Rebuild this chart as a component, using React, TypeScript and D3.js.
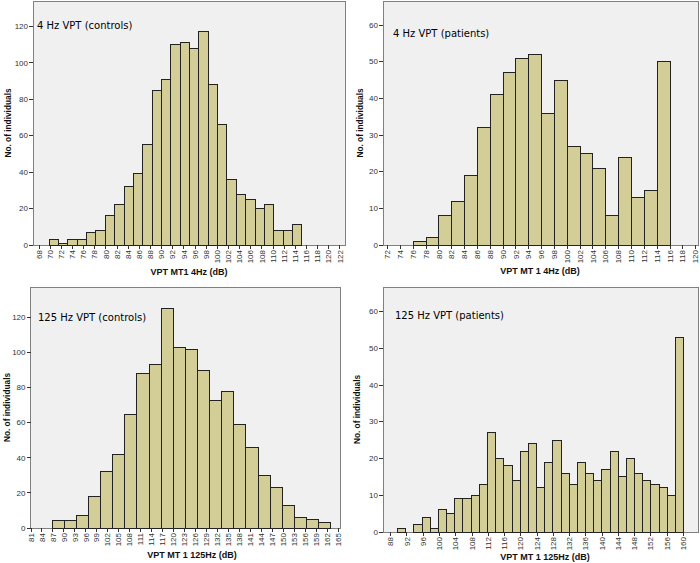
import React from 'react';
import * as d3 from 'd3';

// counts per histogram bin
const P1_COUNTS = [3, 1, 3, 3, 7, 8, 16, 22, 32, 39, 55, 85, 91, 110, 111, 108, 117, 88, 66, 36, 28, 25, 20, 22, 8, 8, 11];
const P2_COUNTS = [1, 2, 8, 12, 19, 32, 41, 47, 51, 52, 36, 45, 27, 25, 21, 8, 24, 13, 15, 50];
const P3_COUNTS = [4, 4, 7, 18, 32, 42, 65, 88, 93, 125, 103, 102, 90, 73, 78, 59, 46, 30, 23, 13, 6, 5, 3];
const P4_COUNTS = [1, 0, 2, 4, 1, 6, 5, 9, 9, 10, 13, 27, 20, 18, 14, 22, 24, 12, 19, 25, 16, 13, 19, 16, 14, 17, 22, 15, 20, 16, 14, 13, 12, 10, 53];

// bin start and width (dB)
const P1_BINS = [69.8, 1.68];
const P2_BINS = [76, 2];
const P3_BINS = [86.8, 3.31];
const P4_BINS = [89.7, 2.01];

const Y_TICKS_120 = [0, 20, 40, 60, 80, 100, 120];
const Y_TICKS_60 = [0, 10, 20, 30, 40, 50, 60];
const P1_XTICKS = d3.range(68, 123, 2);
const P2_XTICKS = d3.range(72, 121, 2);
const P3_XTICKS = d3.range(81, 166, 3);
const P4_XTICKS = d3.range(88, 161, 4);

const panels = [
  {
    title: '4 Hz VPT (controls)', xLabel: 'VPT MT1 4Hz (dB)',
    counts: P1_COUNTS, bins: P1_BINS, xTicks: P1_XTICKS, yTicks: Y_TICKS_120,
    xDomain: [66.9, 122.9], yMax: 134,
    box: { l: 33, r: 345, t: 1, b: 245 },
    titleX: 37, titleY: 29, yLabelX: 8, xLabelX: 189, xLabelY: 275,
  },
  {
    title: '4 Hz VPT (patients)', xLabel: 'VPT MT 1 4Hz (dB)',
    counts: P2_COUNTS, bins: P2_BINS, xTicks: P2_XTICKS, yTicks: Y_TICKS_60,
    xDomain: [71.3, 120.36], yMax: 66.6,
    box: { l: 383, r: 698, t: 1, b: 245 },
    titleX: 393, titleY: 37, yLabelX: 360, xLabelX: 540, xLabelY: 274,
  },
  {
    title: '125 Hz VPT (controls)', xLabel: 'VPT MT 1 125Hz (dB)',
    counts: P3_COUNTS, bins: P3_BINS, xTicks: P3_XTICKS, yTicks: Y_TICKS_120,
    xDomain: [80.86, 165.66], yMax: 137.5,
    box: { l: 30.5, r: 340.7, t: 287, b: 528 },
    titleX: 38, titleY: 321, yLabelX: 7.5, xLabelX: 192, xLabelY: 558,
  },
  {
    title: '125 Hz VPT (patients)', xLabel: 'VPT MT 1 125Hz (dB)',
    counts: P4_COUNTS, bins: P4_BINS, xTicks: P4_XTICKS, yTicks: Y_TICKS_60,
    xDomain: [86.1, 163.6], yMax: 66.7,
    box: { l: 383, r: 698, t: 287, b: 532 },
    titleX: 395, titleY: 319, yLabelX: 357, xLabelX: 545, xLabelY: 560,
  },
];

const Panel = ({ p }) => {
  const { box } = p;
  const x = d3.scaleLinear().domain(p.xDomain).range([box.l, box.r]);
  const y = d3.scaleLinear().domain([0, p.yMax]).range([box.b, box.t]);
  const [start, width] = p.bins;

  return (
    <g>
      <rect x={box.l} y={box.t} width={box.r - box.l} height={box.b - box.t}
        fill="#f0f0f0" stroke="#808080" shapeRendering="crispEdges" />
      <text x={p.titleX} y={p.titleY} fontFamily="DejaVu Sans" fontSize={10} fill="#000">{p.title}</text>
      {p.counts.map((c, i) => {
        if (!c) return null;
        const x0 = x(start + i * width);
        const x1 = x(start + (i + 1) * width);
        return (
          <rect key={i} x={x0} y={y(c)} width={x1 - x0} height={y(0) - y(c)}
            fill="#d3ce97" stroke="#222" strokeWidth={1} shapeRendering="crispEdges" />
        );
      })}
      {/* y axis */}
      {p.yTicks.map(t => (
        <g key={t} transform={`translate(${box.l},${y(t)})`}>
          <line x1={-4} x2={0} stroke="#333" shapeRendering="crispEdges" />
          <text x={-5} dy="0.33em" textAnchor="end" fontFamily="Liberation Sans" fontSize={8} fill="#333">{t}</text>
        </g>
      ))}
      {/* x axis */}
      {p.xTicks.map(t => (
        <g key={t} transform={`translate(${x(t)},${box.b})`}>
          <line y1={0} y2={4} stroke="#333" shapeRendering="crispEdges" />
          <text transform="rotate(-90)" x={-5} dy="0.33em" textAnchor="end"
            fontFamily="Liberation Sans" fontSize={8} fill="#333">{t}</text>
        </g>
      ))}
      <text transform={`translate(${p.yLabelX},${(box.t + box.b) / 2}) rotate(-90)`} dy="0.35em"
        textAnchor="middle" fontFamily="Liberation Sans" fontWeight="bold" fontSize={8.3} fill="#111">
        No. of individuals
      </text>
      <text x={p.xLabelX} y={p.xLabelY} textAnchor="middle" fontFamily="Liberation Sans"
        fontWeight="bold" fontSize={9} fill="#111">{p.xLabel}</text>
    </g>
  );
};

export default function App() {
  return (
    <svg width={700} height={563} style={{ position: 'absolute', left: 0, top: 0, background: '#fff' }}>
      {panels.map((p, i) => <Panel key={i} p={p} />)}
    </svg>
  );
}
